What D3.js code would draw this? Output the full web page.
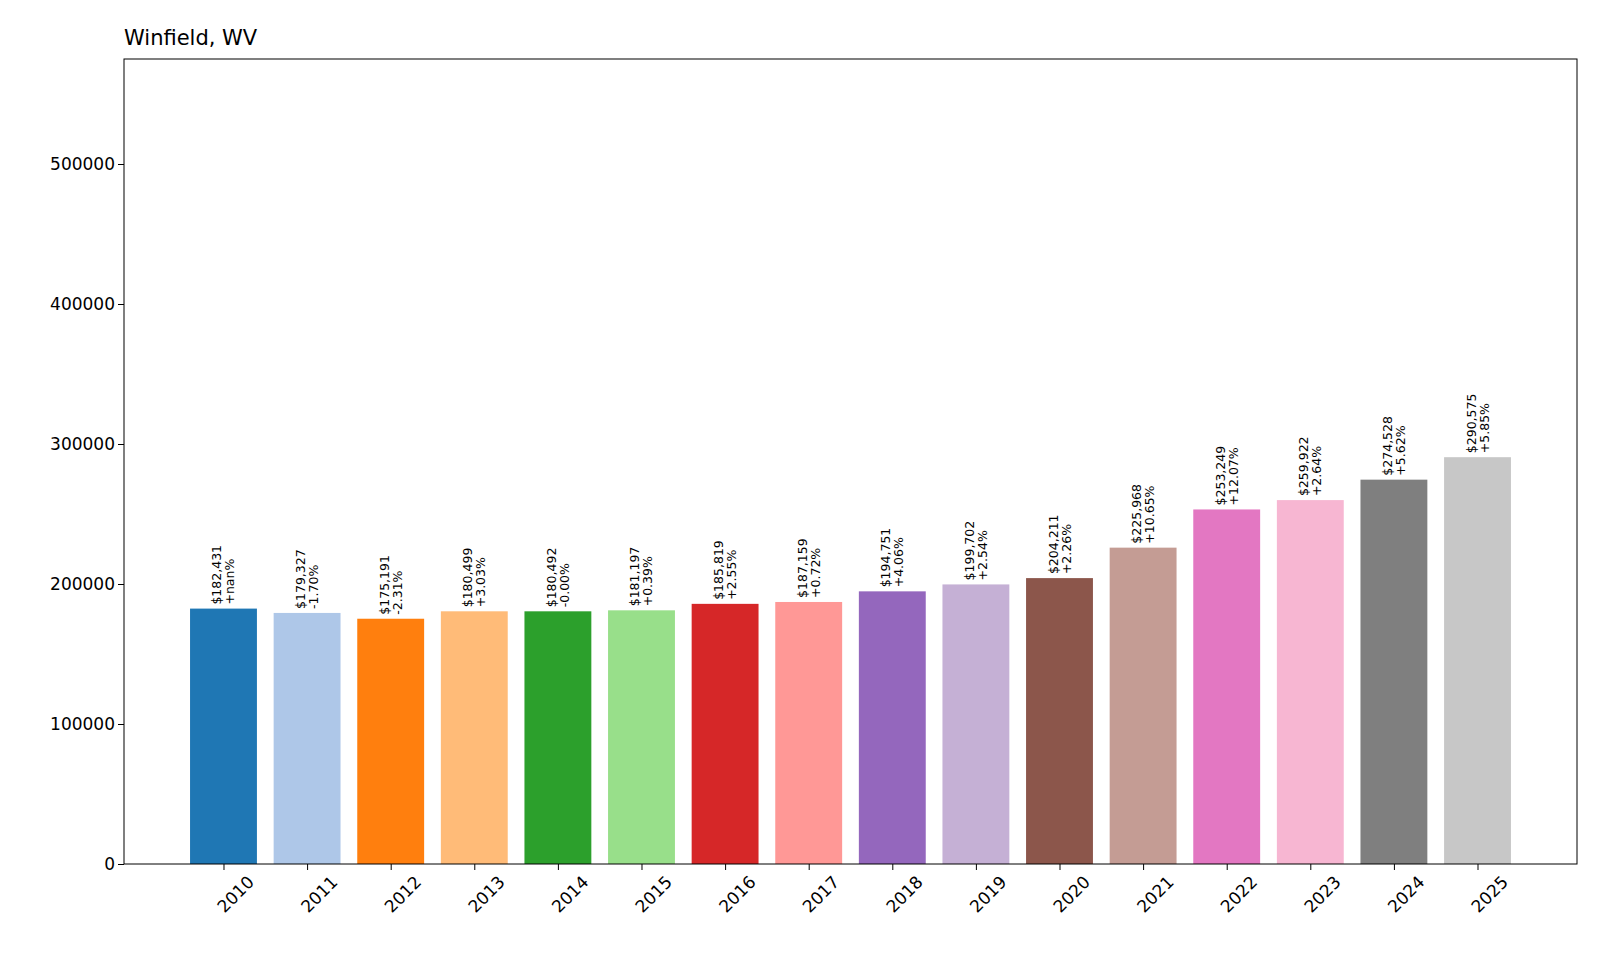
<!DOCTYPE html>
<html><head><meta charset="utf-8">
<script src="https://cdn.jsdelivr.net/npm/d3@7"></script>
<style>body{margin:0;background:#fff;font-family:"DejaVu Sans",sans-serif}</style>
</head><body><div id="container"></div>
<script>
const years = ['2010','2011','2012','2013','2014','2015','2016','2017','2018','2019','2020','2021','2022','2023','2024','2025'];
const values = [182431,179327,175191,180499,180492,181197,185819,187159,194751,199702,204211,225968,253249,259922,274528,290575];
const changes = ['+nan%','-1.70%','-2.31%','+3.03%','-0.00%','+0.39%','+2.55%','+0.72%','+4.06%','+2.54%','+2.26%','+10.65%','+12.07%','+2.64%','+5.62%','+5.85%'];
const colors = ['#1f77b4','#aec7e8','#ff7f0e','#ffbb78','#2ca02c','#98df8a','#d62728','#ff9896','#9467bd','#c5b0d5','#8c564b','#c49c94','#e377c2','#f7b6d2','#7f7f7f','#c7c7c7'];
const yTicks = [0,100000,200000,300000,400000,500000];

const width = 1600, height = 960;
const margin = {top: 59, right: 23, bottom: 96, left: 124};
const svg = d3.select('#container').append('svg').attr('width', width).attr('height', height);

const x = d3.scaleLinear().domain([-1.19, 16.19]).range([margin.left, width - margin.right]);
const y = d3.scaleLinear().domain([0, 575000]).range([height - margin.bottom, margin.top]);
const bw = x(0.8) - x(0);

svg.selectAll('rect.bar').data(values).join('rect')
    .attr('x', (d, i) => x(i) - bw / 2)
    .attr('y', d => y(d))
    .attr('width', bw)
    .attr('height', d => y(0) - y(d))
    .attr('fill', (d, i) => colors[i]);

// value labels
const lab = svg.selectAll('g.lab').data(values).join('g')
    .attr('transform', (d, i) => `translate(${x(i)},${y(d) - 4}) rotate(-90)`)
    .style('font-size', '12.5px').attr('fill', '#000');
lab.append('text').attr('x', 0).attr('y', -2).text(d => '$' + d3.format(',')(d));
lab.append('text').attr('x', 0).attr('y', 11).text((d, i) => changes[i]);

// axes
const xAxis = svg.append('g').attr('transform', `translate(0,${y(0)})`)
    .call(d3.axisBottom(x).tickValues(d3.range(16)).tickFormat(i => years[i]).tickSizeOuter(0));
xAxis.selectAll('text').attr('text-anchor', 'end').attr('dy', '0.9em')
    .attr('transform', 'translate(14,2) rotate(-45)').style('font-size', '17px');

const yAxis = svg.append('g').attr('transform', `translate(${margin.left},0)`)
    .call(d3.axisLeft(y).tickValues(yTicks).tickFormat(d3.format('d')).tickSizeOuter(0));
yAxis.selectAll('text').style('font-size', '17px');
svg.selectAll('.domain').remove();
svg.selectAll('.tick line').attr('stroke', '#000');
svg.selectAll('.tick text').attr('fill', '#000').style('font-family', '"DejaVu Sans",sans-serif');

svg.append('rect').attr('x', margin.left).attr('y', margin.top)
    .attr('width', width - margin.left - margin.right).attr('height', height - margin.top - margin.bottom)
    .attr('fill', 'none').attr('stroke', '#000');

svg.append('text').attr('x', margin.left).attr('y', 45).style('font-size', '21px').text('Winfield, WV');
</script>
</body></html>
